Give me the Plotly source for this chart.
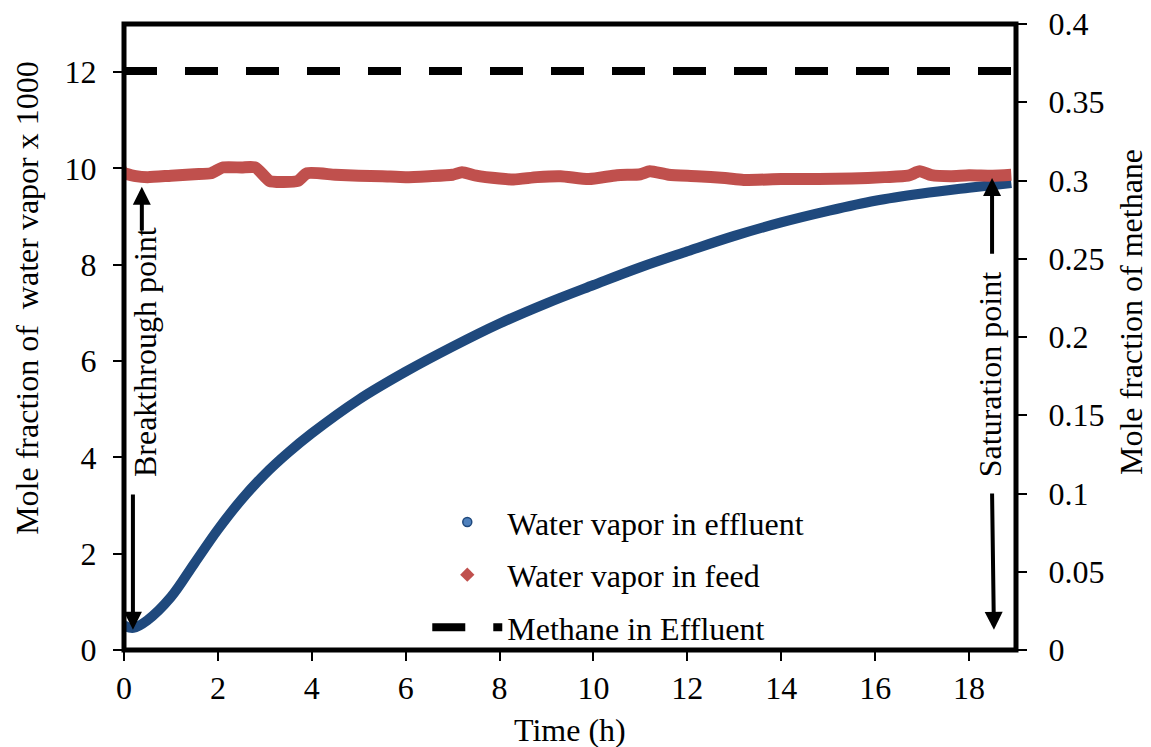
import plotly.graph_objects as go

# Effluent water-vapour mole fraction (x1000) vs time
t_effluent = [0.0, 0.2, 0.5, 1.0, 1.5, 2.0, 2.5, 3.0, 3.5, 4.0, 5.0, 6.0, 7.0, 8.0,
              9.0, 10.0, 11.0, 12.0, 13.0, 14.0, 15.0, 16.0, 17.0, 18.0, 18.9]
y_effluent = [0.50, 0.46, 0.62, 1.10, 1.80, 2.50, 3.12, 3.65, 4.10, 4.50, 5.20, 5.78,
              6.30, 6.78, 7.20, 7.58, 7.95, 8.28, 8.60, 8.88, 9.12, 9.33, 9.48, 9.60, 9.70]

# Feed water-vapour mole fraction (x1000) vs time
t_feed = [0.0, 0.25, 0.5, 1.0, 1.5, 1.85, 2.1, 2.5, 2.8, 3.1, 3.4, 3.7, 3.9, 4.5, 5.0,
          5.5, 6.0, 6.5, 7.0, 7.2, 7.5, 8.0, 8.3, 8.8, 9.3, 9.9, 10.5, 11.0, 11.2, 11.6,
          12.2, 12.8, 13.2, 14.0, 14.8, 15.5, 16.2, 16.7, 16.95, 17.2, 17.6, 18.0, 18.5, 18.9]
y_feed = [9.90, 9.84, 9.82, 9.85, 9.88, 9.90, 10.02, 10.02, 10.02, 9.74, 9.72, 9.74, 9.90,
          9.87, 9.85, 9.84, 9.82, 9.84, 9.87, 9.92, 9.85, 9.79, 9.77, 9.82, 9.84, 9.78,
          9.86, 9.88, 9.94, 9.87, 9.84, 9.80, 9.76, 9.78, 9.78, 9.79, 9.82, 9.85, 9.94,
          9.86, 9.84, 9.86, 9.85, 9.87]

# Methane mole fraction in effluent (right axis)
t_methane = [0.0, 19.0]
y_methane = [0.37, 0.37]

x_ticks = [0, 2, 4, 6, 8, 10, 12, 14, 16, 18]
y_ticks = [0, 2, 4, 6, 8, 10, 12]
y2_ticks = [0, 0.05, 0.1, 0.15, 0.2, 0.25, 0.3, 0.35, 0.4]
y2_labels = ["0", "0.05", "0.1", "0.15", "0.2", "0.25", "0.3", "0.35", "0.4"]

FONT = "Liberation Serif, Times New Roman, serif"
FS = 32
BLUE_DARK = "#1F497D"
BLUE = "#4F81BD"
RED = "#C0504D"

fig = go.Figure()

# Plotted series (legend entries are added separately below)
fig.add_trace(go.Scatter(
    x=t_effluent, y=y_effluent, mode="lines+markers", line=dict(color=BLUE_DARK, width=10, shape="spline"),
    marker=dict(size=[12] + [0] * (len(t_effluent) - 1), color=BLUE_DARK, line=dict(width=0)),
    showlegend=False, hoverinfo="skip"))
fig.add_trace(go.Scatter(
    x=t_feed, y=y_feed, mode="lines+markers", line=dict(color=RED, width=12, shape="spline", smoothing=0.6),
    marker=dict(size=[16] + [0] * (len(t_feed) - 1), symbol="diamond-tall", color=RED, line=dict(width=0)),
    showlegend=False, hoverinfo="skip"))
fig.add_trace(go.Scatter(
    x=t_methane, y=y_methane, yaxis="y2", mode="lines",
    line=dict(color="black", width=8, dash="33px,28px"),
    name="Methane in Effluent", legendgroup="c", legendrank=3))

# Legend entries for the marker series
fig.add_trace(go.Scatter(
    x=[None], y=[None], mode="markers", name="Water vapor in effluent",
    marker=dict(symbol="circle", size=9, color=BLUE, line=dict(color=BLUE_DARK, width=1.5)),
    legendgroup="a", legendrank=1))
fig.add_trace(go.Scatter(
    x=[None], y=[None], mode="markers", name="Water vapor in feed",
    marker=dict(symbol="diamond", size=11, color=RED, line=dict(width=0)),
    legendgroup="b", legendrank=2))

arrow_style = dict(showarrow=True, arrowhead=2, arrowsize=0.9, arrowwidth=4, arrowcolor="black",
                   xref="x", yref="y", axref="x", ayref="y", text="", standoff=0)
text_font = dict(family=FONT, size=FS, color="black")
annotations = [
    dict(x=0.19, y=0.42, ax=0.19, ay=3.26, **arrow_style),
    dict(x=0.38, y=9.62, ax=0.38, ay=8.68, **arrow_style),
    dict(x=18.49, y=9.80, ax=18.49, ay=8.2, **arrow_style),
    dict(x=18.53, y=0.42, ax=18.49, ay=3.28, **arrow_style),
    dict(x=0.45, y=6.19, xref="x", yref="y", text="Breakthrough point", textangle=-90,
         showarrow=False, font=text_font),
    dict(x=18.45, y=5.71, xref="x", yref="y", text="Saturation point", textangle=-90,
         showarrow=False, font=text_font),
    dict(x=-0.108, y=0.562, xref="paper", yref="paper", xanchor="center", yanchor="middle",
         text="Mole fraction of  water vapor x 1000", textangle=-90, showarrow=False, font=text_font),
    dict(x=1.129, y=0.54, xref="paper", yref="paper", xanchor="center", yanchor="middle",
         text="Mole fraction of methane", textangle=-90, showarrow=False, font=text_font),
    dict(x=0.5, y=-0.127, xref="paper", yref="paper", xanchor="center", yanchor="middle",
         text="Time (h)", showarrow=False, font=text_font),
]

axis_common = dict(showgrid=False, zeroline=False, showline=False, ticks="outside", ticklen=10,
                   tickwidth=1.5, tickcolor="black", automargin=False,
                   tickfont=dict(family=FONT, size=FS, color="black"))

fig.update_layout(
    width=1151, height=747,
    margin=dict(l=124, r=135, t=24, b=97, pad=0, autoexpand=False),
    paper_bgcolor="white", plot_bgcolor="white",
    font=dict(family=FONT, size=FS, color="black"),
    xaxis=dict(range=[0, 19], tickvals=x_ticks, **axis_common),
    yaxis=dict(range=[0, 13], tickvals=y_ticks, ticklabelstandoff=10, **axis_common),
    yaxis2=dict(range=[0, 0.4], tickvals=y2_ticks, ticktext=y2_labels, overlaying="y", side="right",
                ticklabelstandoff=15, **axis_common),
    legend=dict(x=0.34, y=0.248, xanchor="left", yanchor="top", bgcolor="rgba(0,0,0,0)",
                font=dict(family=FONT, size=FS, color="black"), itemwidth=70,
                traceorder="grouped", tracegroupgap=8),
    annotations=annotations,
    shapes=[dict(type="rect", xref="paper", yref="paper", x0=0, y0=0, x1=1, y1=1,
                 line=dict(color="black", width=5), layer="above")],
    showlegend=True,
)

fig.write_html("out.html")
